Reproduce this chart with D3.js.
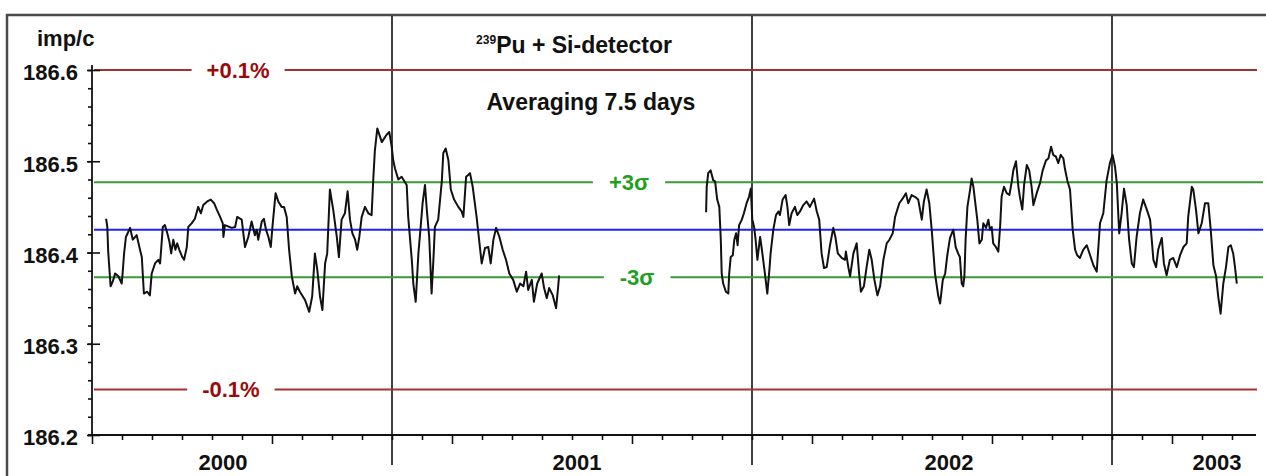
<!DOCTYPE html>
<html>
<head>
<meta charset="utf-8">
<script src="https://cdn.jsdelivr.net/npm/d3@7"></script>
<style>
  html, body { margin: 0; padding: 0; background: #fff; }
  svg { display: block; font-family: Arial, "Liberation Sans", sans-serif; }
</style>
</head>
<body>
<div id="chart"></div>
<script>
// Count rate of a 239Pu source (Si detector), 7.5-day running average.
// x = months since Jan 2000, y = impulses per count interval.

const seg1Months = [2.47, 2.51, 2.54, 2.62, 2.69, 2.77, 2.88, 2.99, 3.02, 3.07, 3.13, 3.27, 3.36, 3.49, 3.60, 3.66,
  3.73, 3.84, 3.93, 3.99, 4.10, 4.21, 4.27, 4.36, 4.43, 4.51, 4.58, 4.64, 4.71, 4.78, 4.84, 4.91, 5.01, 5.07,
  5.16, 5.21, 5.32, 5.43, 5.54, 5.63, 5.71, 5.84, 5.96, 6.07, 6.16, 6.27, 6.36, 6.38, 6.43, 6.66, 6.77, 6.84,
  6.99, 7.10, 7.21, 7.32, 7.43, 7.49, 7.54, 7.66, 7.73, 7.80, 7.88, 7.96, 8.02, 8.12, 8.21, 8.32, 8.40, 8.49,
  8.57, 8.66, 8.77, 8.84, 8.93, 9.10, 9.24, 9.34, 9.43, 9.51, 9.60, 9.68, 9.77, 9.84, 9.93, 10.04, 10.16, 10.23,
  10.32, 10.43, 10.52, 10.60, 10.68, 10.77, 10.84, 10.91, 10.99, 11.10, 11.21, 11.32, 11.38, 11.43, 11.51, 11.66,
  11.82, 11.91, 11.99, 12.04, 12.10, 12.21, 12.32, 12.49, 12.54, 12.66, 12.71, 12.79, 12.88, 12.96, 13.02, 13.10,
  13.16, 13.24, 13.32, 13.38, 13.43, 13.54, 13.66, 13.71, 13.79, 13.88, 13.96, 14.07, 14.21, 14.32, 14.38, 14.47,
  14.54, 14.60, 14.69, 14.82, 14.93, 14.99, 15.10, 15.21, 15.29, 15.38, 15.47, 15.58, 15.69, 15.80, 15.91, 16.04,
  16.16, 16.27, 16.38, 16.47, 16.54, 16.66, 16.73, 16.84, 16.99, 17.07, 17.16, 17.24, 17.36, 17.47, 17.54, 17.57];
const seg1Values = [186.437, 186.428, 186.401, 186.363, 186.368, 186.377, 186.374, 186.366, 186.377, 186.399,
  186.417, 186.427, 186.414, 186.419, 186.403, 186.395, 186.355, 186.357, 186.353, 186.377, 186.388, 186.392,
  186.388, 186.428, 186.430, 186.421, 186.412, 186.399, 186.414, 186.403, 186.410, 186.403, 186.395, 186.392,
  186.406, 186.428, 186.432, 186.437, 186.450, 186.443, 186.452, 186.456, 186.458, 186.454, 186.447, 186.439,
  186.432, 186.417, 186.430, 186.427, 186.428, 186.439, 186.436, 186.406, 186.417, 186.434, 186.419, 186.425,
  186.414, 186.434, 186.437, 186.425, 186.417, 186.406, 186.430, 186.465, 186.456, 186.450, 186.450, 186.439,
  186.403, 186.374, 186.355, 186.363, 186.357, 186.348, 186.335, 186.352, 186.399, 186.381, 186.352, 186.337,
  186.388, 186.399, 186.469, 186.447, 186.417, 186.395, 186.436, 186.443, 186.467, 186.436, 186.421, 186.414,
  186.403, 186.417, 186.439, 186.450, 186.443, 186.441, 186.483, 186.512, 186.536, 186.521, 186.529, 186.532,
  186.516, 186.501, 186.492, 186.480, 186.483, 186.474, 186.439, 186.392, 186.366, 186.346, 186.399, 186.430,
  186.454, 186.474, 186.447, 186.417, 186.355, 186.392, 186.428, 186.436, 186.478, 186.509, 186.514, 186.501,
  186.469, 186.458, 186.450, 186.445, 186.439, 186.483, 186.485, 186.487, 186.472, 186.439, 186.406, 186.388,
  186.405, 186.406, 186.388, 186.414, 186.427, 186.417, 186.403, 186.392, 186.377, 186.370, 186.357, 186.366,
  186.363, 186.379, 186.359, 186.370, 186.346, 186.366, 186.377, 186.361, 186.350, 186.361, 186.353, 186.339,
  186.363, 186.375];

const seg2Months = [22.47, 22.49, 22.54, 22.62, 22.71, 22.77, 22.84, 22.91, 22.96, 22.99, 23.04, 23.13, 23.21,
  23.24, 23.29, 23.36, 23.41, 23.47, 23.52, 23.57, 23.66, 23.73, 23.82, 23.90, 23.96, 24.01, 24.07, 24.12, 24.18,
  24.27, 24.33, 24.43, 24.51, 24.58, 24.62, 24.71, 24.80, 24.88, 24.93, 25.02, 25.12, 25.18, 25.24, 25.32, 25.43,
  25.51, 25.60, 25.71, 25.82, 25.93, 26.07, 26.16, 26.24, 26.32, 26.40, 26.49, 26.60, 26.71, 26.78, 26.86, 26.99,
  27.10, 27.13, 27.21, 27.27, 27.38, 27.49, 27.57, 27.63, 27.73, 27.82, 27.91, 27.99, 28.08, 28.18, 28.27, 28.38,
  28.49, 28.58, 28.69, 28.77, 28.91, 29.02, 29.13, 29.21, 29.32, 29.43, 29.54, 29.66, 29.73, 29.82, 29.91, 29.99,
  30.10, 30.21, 30.27, 30.36, 30.44, 30.51, 30.60, 30.71, 30.79, 30.87, 30.93, 30.99, 31.04, 31.08, 31.12, 31.18,
  31.27, 31.32, 31.38, 31.47, 31.51, 31.58, 31.66, 31.71, 31.80, 31.88, 31.93, 31.99, 32.04, 32.13, 32.21, 32.27,
  32.32, 32.40, 32.49, 32.58, 32.66, 32.71, 32.80, 32.88, 32.93, 33.01, 33.07, 33.16, 33.24, 33.32, 33.38, 33.49,
  33.60, 33.69, 33.80, 33.88, 33.97, 34.04, 34.13, 34.21, 34.29, 34.38, 34.43, 34.51, 34.60, 34.69, 34.77, 34.84,
  34.93, 35.04, 35.16, 35.27, 35.38, 35.49, 35.60, 35.71, 35.82, 35.93, 36.02, 36.10, 36.16, 36.24, 36.32, 36.40,
  36.49, 36.57, 36.66, 36.73, 36.82, 36.93, 37.04, 37.16, 37.27, 37.38, 37.47, 37.54, 37.66, 37.73, 37.82, 37.93,
  38.04, 38.16, 38.27, 38.38, 38.49, 38.54, 38.66, 38.71, 38.80, 38.88, 38.99, 39.10, 39.21, 39.29, 39.38, 39.47,
  39.54, 39.62, 39.71, 39.80, 39.88, 39.96, 40.04, 40.10, 40.16];
const seg2Values = [186.444, 186.472, 186.487, 186.490, 186.479, 186.478, 186.458, 186.450, 186.414, 186.377,
  186.366, 186.357, 186.355, 186.377, 186.395, 186.397, 186.414, 186.421, 186.408, 186.430, 186.436, 186.443,
  186.454, 186.461, 186.470, 186.436, 186.428, 186.414, 186.392, 186.417, 186.403, 186.377, 186.355, 186.381,
  186.399, 186.425, 186.441, 186.445, 186.441, 186.458, 186.463, 186.450, 186.430, 186.443, 186.450, 186.441,
  186.445, 186.452, 186.456, 186.450, 186.459, 186.445, 186.436, 186.399, 186.383, 186.384, 186.408, 186.427,
  186.417, 186.399, 186.394, 186.392, 186.401, 186.384, 186.374, 186.399, 186.410, 186.377, 186.357, 186.363,
  186.384, 186.403, 186.392, 186.370, 186.353, 186.363, 186.392, 186.410, 186.414, 186.421, 186.439, 186.454,
  186.459, 186.465, 186.454, 186.463, 186.461, 186.458, 186.436, 186.456, 186.469, 186.454, 186.425, 186.377,
  186.352, 186.344, 186.370, 186.377, 186.397, 186.416, 186.425, 186.406, 186.399, 186.395, 186.366, 186.363,
  186.374, 186.414, 186.450, 186.469, 186.481, 186.472, 186.447, 186.436, 186.410, 186.414, 186.432, 186.427,
  186.436, 186.425, 186.428, 186.410, 186.406, 186.401, 186.428, 186.461, 186.472, 186.465, 186.463, 186.478,
  186.490, 186.500, 186.472, 186.461, 186.447, 186.474, 186.496, 186.490, 186.472, 186.452, 186.465, 186.476,
  186.490, 186.501, 186.503, 186.516, 186.507, 186.505, 186.498, 186.507, 186.503, 186.492, 186.479, 186.469,
  186.425, 186.403, 186.397, 186.394, 186.403, 186.408, 186.397, 186.386, 186.379, 186.432, 186.443, 186.479,
  186.498, 186.507, 186.494, 186.476, 186.421, 186.443, 186.470, 186.452, 186.414, 186.388, 186.384, 186.417,
  186.443, 186.458, 186.447, 186.436, 186.392, 186.384, 186.403, 186.416, 186.388, 186.375, 186.392, 186.394,
  186.384, 186.397, 186.406, 186.410, 186.439, 186.472, 186.469, 186.447, 186.421, 186.432, 186.454, 186.454,
  186.425, 186.386, 186.374, 186.352, 186.333, 186.366, 186.384, 186.406, 186.408, 186.399, 186.384, 186.366];

// reference levels
const meanLevel   = 186.425;
const sigmaLevels = [186.477, 186.373];   // +3σ, -3σ
const pctLevels   = [186.6, 186.25];      // +0.1 %, -0.1 %
const sigmaLabels = ["+3σ", "-3σ"];
const sigmaLabelMonths = [19.9, 20.17];
const pctLabels   = ["+0.1%", "-0.1%"];
const pctLabelMonths = [6.87, 6.63];

// axes
const yTicks = [186.2, 186.3, 186.4, 186.5, 186.6];
const yMinorTicks = d3.range(186.2, 186.601, 0.02);
const monthTicks = d3.range(2, 41);
const yearBoundaries = [12, 24, 36];
const yearLabels = ["2000", "2001", "2002", "2003"];
const yearLabelMonths = [6.37, 18.17, 30.57, 39.5];

const W = 1266, H = 476;
const X0 = 92, X1 = 1256, Y0 = 435, YTOP = 65;

const svg = d3.select("#chart").append("svg")
  .attr("width", W).attr("height", H);

const x = d3.scaleLinear().domain([2, 40.8]).range([X0, X0 + 38.8 * 30]);
const y = d3.scaleLinear().domain([186.2, 186.6]).range([Y0, 70]);

// ---- frame (top + left edges only) ----
svg.append("path")
  .attr("d", `M7,${H} V15 H${W}`)
  .attr("fill", "none").attr("stroke", "#4a4a4a").attr("stroke-width", 2.5);

// ---- year boundary lines ----
svg.selectAll(".year-line")
  .data(yearBoundaries)
  .join("line")
  .attr("x1", d => x(d)).attr("x2", d => x(d))
  .attr("y1", 16).attr("y2", 465)
  .attr("stroke", "#111").attr("stroke-width", 1.6);

// ---- horizontal reference lines ----
const refLines = [
  ...pctLevels.map(v => ({ v, color: "#a3302f", end: 1257 })),
  ...sigmaLevels.map(v => ({ v, color: "#3a9a3a", end: 1263 })),
  { v: meanLevel, color: "#2020ff", end: 1263 }
];
svg.selectAll(".ref")
  .data(refLines)
  .join("line")
  .attr("x1", X0 + 2).attr("x2", d => d.end)
  .attr("y1", d => y(d.v)).attr("y2", d => y(d.v))
  .attr("stroke", d => d.color).attr("stroke-width", 2);

// labels sitting on the lines, with a white gap
function lineLabel(txt, m, v, color, pad) {
  const t = svg.append("text")
    .attr("x", x(m)).attr("y", y(v))
    .attr("dy", "0.36em")
    .attr("text-anchor", "middle")
    .attr("font-size", 22).attr("font-weight", "bold")
    .attr("fill", color)
    .text(txt);
  const b = t.node().getBBox();
  svg.insert("rect", () => t.node())
    .attr("x", b.x - pad).attr("y", y(v) - 4)
    .attr("width", b.width + 2 * pad).attr("height", 8)
    .attr("fill", "#fff");
}
pctLabels.forEach((s, i) => lineLabel(s, pctLabelMonths[i], pctLevels[i], "#9a0a0a", 15));
sigmaLabels.forEach((s, i) => lineLabel(s, sigmaLabelMonths[i], sigmaLevels[i], "#1f9f1f", 16));

// ---- data line (two measurement periods) ----
const line = d3.line().x(d => x(d[0])).y(d => y(d[1]));
const seg1 = seg1Months.map((m, i) => [m, seg1Values[i]]);
const seg2 = seg2Months.map((m, i) => [m, seg2Values[i]]);
svg.selectAll(".series")
  .data([seg1, seg2])
  .join("path")
  .attr("d", line)
  .attr("fill", "none").attr("stroke", "#111").attr("stroke-width", 2)
  .attr("stroke-linejoin", "round");

// ---- y axis ----
const gy = svg.append("g").attr("transform", `translate(${X0},0)`);
gy.append("g")
  .call(d3.axisLeft(y).tickValues(yMinorTicks).tickSize(4).tickFormat(""))
  .call(g => g.select(".domain").remove());
gy.append("g")
  .call(d3.axisLeft(y).tickValues(yTicks).tickSize(5).tickPadding(9).tickFormat(d3.format(".1f")))
  .call(g => g.select(".domain").remove())
  .call(g => g.selectAll(".tick line").attr("x1", 8))
  .call(g => g.selectAll(".tick text")
    .attr("font-size", 22).attr("font-weight", "bold")
    .attr("font-family", "Arial, 'Liberation Sans', sans-serif")
    .attr("fill", "#111").attr("dy", "0.45em"));
gy.selectAll("line").attr("stroke", "#111").attr("stroke-width", 1.6);
gy.append("line")
  .attr("x1", 0).attr("x2", 0).attr("y1", Y0).attr("y2", YTOP)
  .attr("stroke", "#111").attr("stroke-width", 1.8);

svg.append("text")
  .attr("x", 37).attr("y", 46)
  .attr("font-size", 22).attr("font-weight", "bold").attr("fill", "#111")
  .text("imp/c");

// ---- x axis ----
const gx = svg.append("g").attr("transform", `translate(0,${Y0})`);
gx.call(d3.axisBottom(x).tickValues(monthTicks).tickSize(5).tickFormat(""))
  .call(g => g.select(".domain").remove())
  .call(g => g.selectAll(".tick line")
    .attr("y2", d => (d - 2) % 6 === 0 ? 9 : 5)
    .attr("stroke", "#111").attr("stroke-width", 1.6));
gx.append("line")
  .attr("x1", 88).attr("x2", X1).attr("y1", 0).attr("y2", 0)
  .attr("stroke", "#111").attr("stroke-width", 1.8);

svg.selectAll(".year-label")
  .data(yearLabels)
  .join("text")
  .attr("x", (d, i) => x(yearLabelMonths[i]))
  .attr("y", 470)
  .attr("text-anchor", "middle")
  .attr("font-size", 22).attr("font-weight", "bold").attr("fill", "#111")
  .text(d => d);

// ---- titles ----
const title = svg.append("text")
  .attr("x", 574).attr("y", 53)
  .attr("text-anchor", "middle")
  .attr("font-size", 23).attr("font-weight", "bold").attr("fill", "#111");
title.append("tspan").attr("font-size", 12).attr("dy", -9).text("239");
title.append("tspan").attr("dy", 9).text("Pu + Si-detector");

svg.append("text")
  .attr("x", 591).attr("y", 110)
  .attr("text-anchor", "middle")
  .attr("font-size", 23).attr("font-weight", "bold").attr("fill", "#111")
  .text("Averaging 7.5 days");
</script>
</body>
</html>
